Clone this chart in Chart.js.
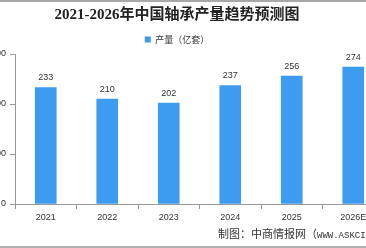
<!DOCTYPE html>
<html>
<head>
<meta charset="utf-8">
<script src="https://cdn.jsdelivr.net/npm/chart.js@4/dist/chart.umd.min.js"></script>
<style>
  html, body { margin:0; padding:0; background:#fff; }
  #wrap { position:relative; width:366px; height:248px; overflow:hidden; background:#fff; }
  #c { position:absolute; left:-30px; top:0; }
  #topline { position:absolute; left:0; top:0; width:366px; height:2px; background:#a8a8a8; }
  #botline { position:absolute; left:0; top:246px; width:366px; height:2px; background:#b0b0b0; }
  #src { position:absolute; left:218px; top:225px; font-family:"Noto Sans CJK SC",sans-serif; font-size:11px; color:#333; white-space:nowrap; }
  #src .lat { font-family:"Liberation Mono",monospace; font-size:9px; }
</style>
</head>
<body>
<div id="wrap">
  <canvas id="c" width="426" height="248"></canvas>
  <div id="topline"></div>
  <div id="botline"></div>
  <div id="src">制图：中商情报网（<span class="lat">WWW.ASKCI.COM</span>）</div>
</div>
<script>
const titleText = "2021-2026年中国轴承产量趋势预测图";
const categories = ["2021", "2022", "2023", "2024", "2025", "2026E"];
const seriesName = "产量（亿套）";
const outputValues = [233, 210, 202, 237, 256, 274];
const yTicks = [0, 100, 200, 300];

const barLabels = {
  id: "barLabels",
  afterDatasetsDraw(chart) {
    const ctx = chart.ctx;
    ctx.save();
    ctx.font = "9px 'Liberation Sans', sans-serif";
    ctx.fillStyle = "#333";
    ctx.textAlign = "center";
    ctx.textBaseline = "bottom";
    chart.getDatasetMeta(0).data.forEach((bar, i) => {
      ctx.fillText(String(chart.data.datasets[0].data[i]), bar.x, bar.y - 5);
    });
    ctx.restore();
  }
};

new Chart(document.getElementById("c"), {
  type: "bar",
  data: {
    labels: categories,
    datasets: [{
      label: seriesName,
      data: outputValues,
      backgroundColor: "#3d9bf0",
      borderWidth: 0,
      barThickness: 21
    }]
  },
  options: {
    responsive: false,
    animation: false,
    devicePixelRatio: 1,
    layout: { padding: { left: 0, right: 12, top: 0, bottom: 0 } },
    plugins: {
      title: {
        display: true,
        text: titleText,
        color: "#222",
        font: { family: "'Liberation Serif','Noto Sans CJK SC',serif", size: 15, weight: "bold", lineHeight: 1.2 },
        padding: { top: 6, bottom: 5 }
      },
      legend: {
        display: true,
        labels: {
          boxWidth: 6, boxHeight: 6, padding: 6,
          color: "#333",
          font: { family: "'Noto Sans CJK SC',sans-serif", size: 9 }
        }
      },
      tooltip: { enabled: false }
    },
    scales: {
      x: {
        grid: { display: true, drawOnChartArea: false, drawTicks: true, tickLength: 5, color: "#999", offset: true },
        border: { display: true, color: "#999" },
        ticks: { color: "#333", padding: 3, font: { family: "'Liberation Sans',sans-serif", size: 9 }, maxRotation: 0 },
        afterFit(scale) { scale.height = 44; }
      },
      y: {
        min: 0, max: 300,
        afterBuildTicks(scale) { scale.ticks = yTicks.map(v => ({ value: v })); },
        grid: { display: true, drawOnChartArea: false, drawTicks: true, tickLength: 5, color: "#999" },
        border: { display: true, color: "#999" },
        ticks: { color: "#333", padding: 4, font: { family: "'Liberation Sans',sans-serif", size: 9 } },
        afterFit(scale) { scale.width = 45; }
      }
    }
  },
  plugins: [barLabels]
});
</script>
</body>
</html>
